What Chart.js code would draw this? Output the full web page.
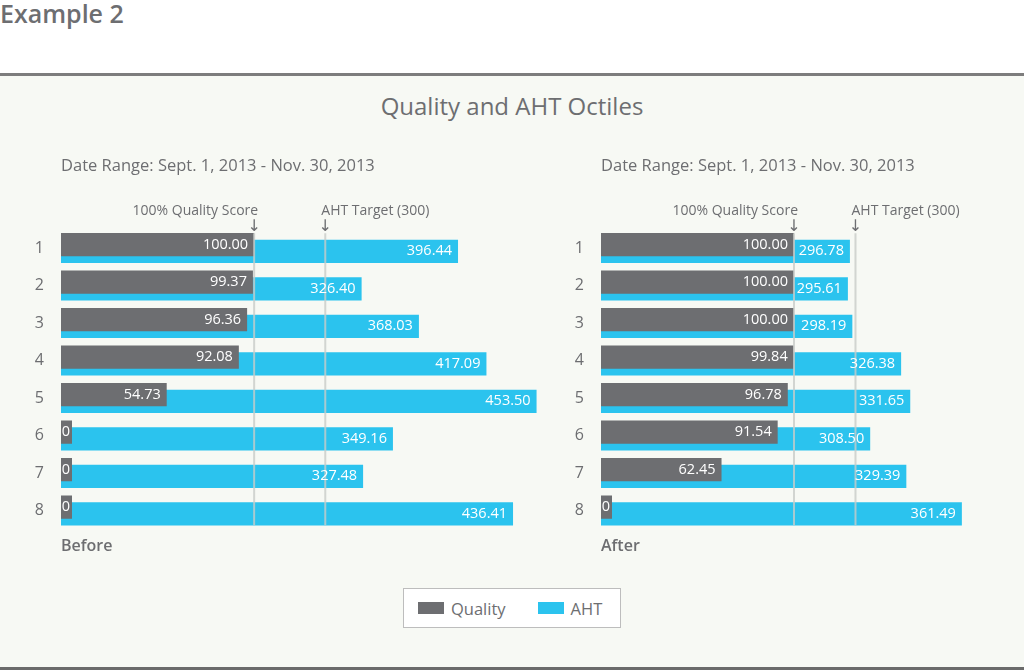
<!DOCTYPE html>
<html>
<head>
<meta charset="utf-8">
<script src="https://cdn.jsdelivr.net/npm/chart.js@4.4.0/dist/chart.umd.min.js"></script>
<style>
  body { margin: 0; width: 1024px; height: 670px; background: #fff; font-family: "Open Sans", sans-serif; color: #6d6e71; position: relative; overflow: hidden; }
  #heading { position: absolute; left: 0; top: -3px; font-size: 25px; font-weight: 600; line-height: 32px; }
  #panel { position: absolute; left: 0; top: 73px; width: 1024px; height: 591px; background: #f7f9f4; border-top: 3px solid #7d7d7d; border-bottom: 3px solid #6b6b6b; }
  #title { position: absolute; left: 0; width: 1024px; top: 91px; text-align: center; font-size: 24px; font-weight: 500; line-height: 30px; }
  canvas { position: absolute; top: 140px; }
  #before { left: 0; }
  #after { left: 540px; }
  #legend { position: absolute; left: 403px; top: 588px; width: 216px; height: 38px; background: #fff; border: 1px solid #bdbdbd; display: flex; align-items: center; font-size: 16.5px; font-weight: 500; }
  .item { display: flex; align-items: center; margin-left: 14px; margin-right: 18px; }
  .swatch { width: 26px; height: 12px; margin-right: 7px; }
</style>
</head>
<body>
<div id="heading">Example 2</div>
<div id="panel"></div>
<div id="title">Quality and AHT Octiles</div>
<canvas id="before" width="560" height="420"></canvas>
<canvas id="after" width="484" height="420"></canvas>
<div id="legend"></div>

<script>
const categories = ['1', '2', '3', '4', '5', '6', '7', '8'];
const seriesNames = ['Quality', 'AHT'];
const seriesColors = ['#6d6e71', '#2bc3ee'];

const beforeQuality = [100.00, 99.37, 96.36, 92.08, 54.73, 0, 0, 0];
const beforeAHT = [396.44, 326.40, 368.03, 417.09, 453.50, 349.16, 327.48, 436.41];
const afterQuality = [100.00, 100.00, 100.00, 99.84, 96.78, 91.54, 62.45, 0];
const afterAHT = [296.78, 295.61, 298.19, 326.38, 331.65, 308.50, 329.39, 361.49];

const dateRange = 'Date Range: Sept. 1, 2013 - Nov. 30, 2013';
const qualityTarget = 100;
const ahtTarget = 300;
const qualityNote = '100% Quality Score';
const ahtNote = 'AHT Target (300)';

const textGray = '#6d6e71';
Chart.defaults.font.family = '"Open Sans", sans-serif';
Chart.defaults.color = textGray;

// target lines, value labels and the notes above the lines
const markers = {
  id: 'markers',
  afterDatasetsDraw(chart) {
    const { ctx, chartArea, scales } = chart;
    const qx = scales.x.getPixelForValue(qualityTarget);
    const ax = scales.x2.getPixelForValue(ahtTarget);
    ctx.save();
    ctx.strokeStyle = 'rgba(200,204,200,0.8)';
    ctx.lineWidth = 2;
    [qx, ax].forEach(x => {
      ctx.beginPath();
      ctx.moveTo(x, chartArea.top + 4);
      ctx.lineTo(x, chartArea.bottom - 4);
      ctx.stroke();
    });

    ctx.font = '500 14.5px "Open Sans"';
    ctx.fillStyle = '#fff';
    ctx.textBaseline = 'middle';
    ctx.textAlign = 'right';
    chart.data.datasets.forEach((ds, i) => {
      chart.getDatasetMeta(i).data.forEach((bar, j) => {
        const v = ds.data[j];
        const txt = v === 0 ? '0' : v.toFixed(2);
        const w = ctx.measureText(txt).width;
        const pad = (bar.x - bar.base) > w + 10 ? 6 : 2;
        ctx.fillText(txt, bar.x - pad, bar.y);
      });
    });

    ctx.fillStyle = textGray;
    ctx.font = '14px "Open Sans"';
    ctx.textAlign = 'right';
    ctx.fillText(qualityNote, qx + 4, chartArea.top - 18);
    ctx.textAlign = 'left';
    ctx.fillText(ahtNote, ax - 4, chartArea.top - 18);
    ctx.font = '16px "DejaVu Sans"';
    ctx.textAlign = 'center';
    ctx.fillText('↓', qx, chartArea.top - 2);
    ctx.fillText('↓', ax, chartArea.top - 2);
    ctx.restore();
  }
};

function makeChart(id, quality, aht, caption, qMax, aMin, aMax, padRight) {
  return new Chart(document.getElementById(id), {
    type: 'bar',
    data: {
      labels: categories,
      datasets: [{
        label: seriesNames[0],
        data: quality,
        backgroundColor: seriesColors[0],
        xAxisID: 'x',
        minBarLength: 11
      }, {
        label: seriesNames[1],
        data: aht,
        backgroundColor: seriesColors[1],
        xAxisID: 'x2'
      }]
    },
    options: {
      indexAxis: 'y',
      responsive: false,
      animation: false,
      categoryPercentage: 0.357,
      barPercentage: 3.49,
      layout: { padding: { left: 0, right: padRight, top: 0, bottom: 0 } },
      scales: {
        y: {
          grid: { display: false },
          border: { display: false },
          ticks: { padding: 9, font: { size: 16, weight: '500' }, color: textGray },
          afterFit: (scale) => { scale.width = 61; }
        },
        x: { type: 'linear', min: 0, max: qMax, display: false },
        x2: { type: 'linear', min: aMin, max: aMax, display: false }
      },
      plugins: {
        legend: { display: false },
        tooltip: { enabled: false },
        title: {
          display: true, text: dateRange, align: 'start', fullSize: false,
          color: textGray, font: { size: 16.5, weight: '500' },
          padding: { top: 16.1, bottom: 53.35 }
        },
        subtitle: {
          display: true, text: caption, position: 'bottom', align: 'start', fullSize: false,
          color: textGray, font: { size: 16, weight: '600' },
          padding: { top: 7.15, bottom: 4.4 }
        }
      }
    },
    plugins: [markers]
  });
}

makeChart('before', beforeQuality, beforeAHT, 'Before', 248, 108, 456, 20);
makeChart('after', afterQuality, afterAHT, 'After', 188.6, 152.9, 363.3, 59);

const legend = document.getElementById('legend');
seriesNames.forEach((name, i) => {
  const item = document.createElement('div');
  item.className = 'item';
  const sw = document.createElement('span');
  sw.className = 'swatch';
  sw.style.background = seriesColors[i];
  item.appendChild(sw);
  item.appendChild(document.createTextNode(name));
  legend.appendChild(item);
});
</script>
</body>
</html>
